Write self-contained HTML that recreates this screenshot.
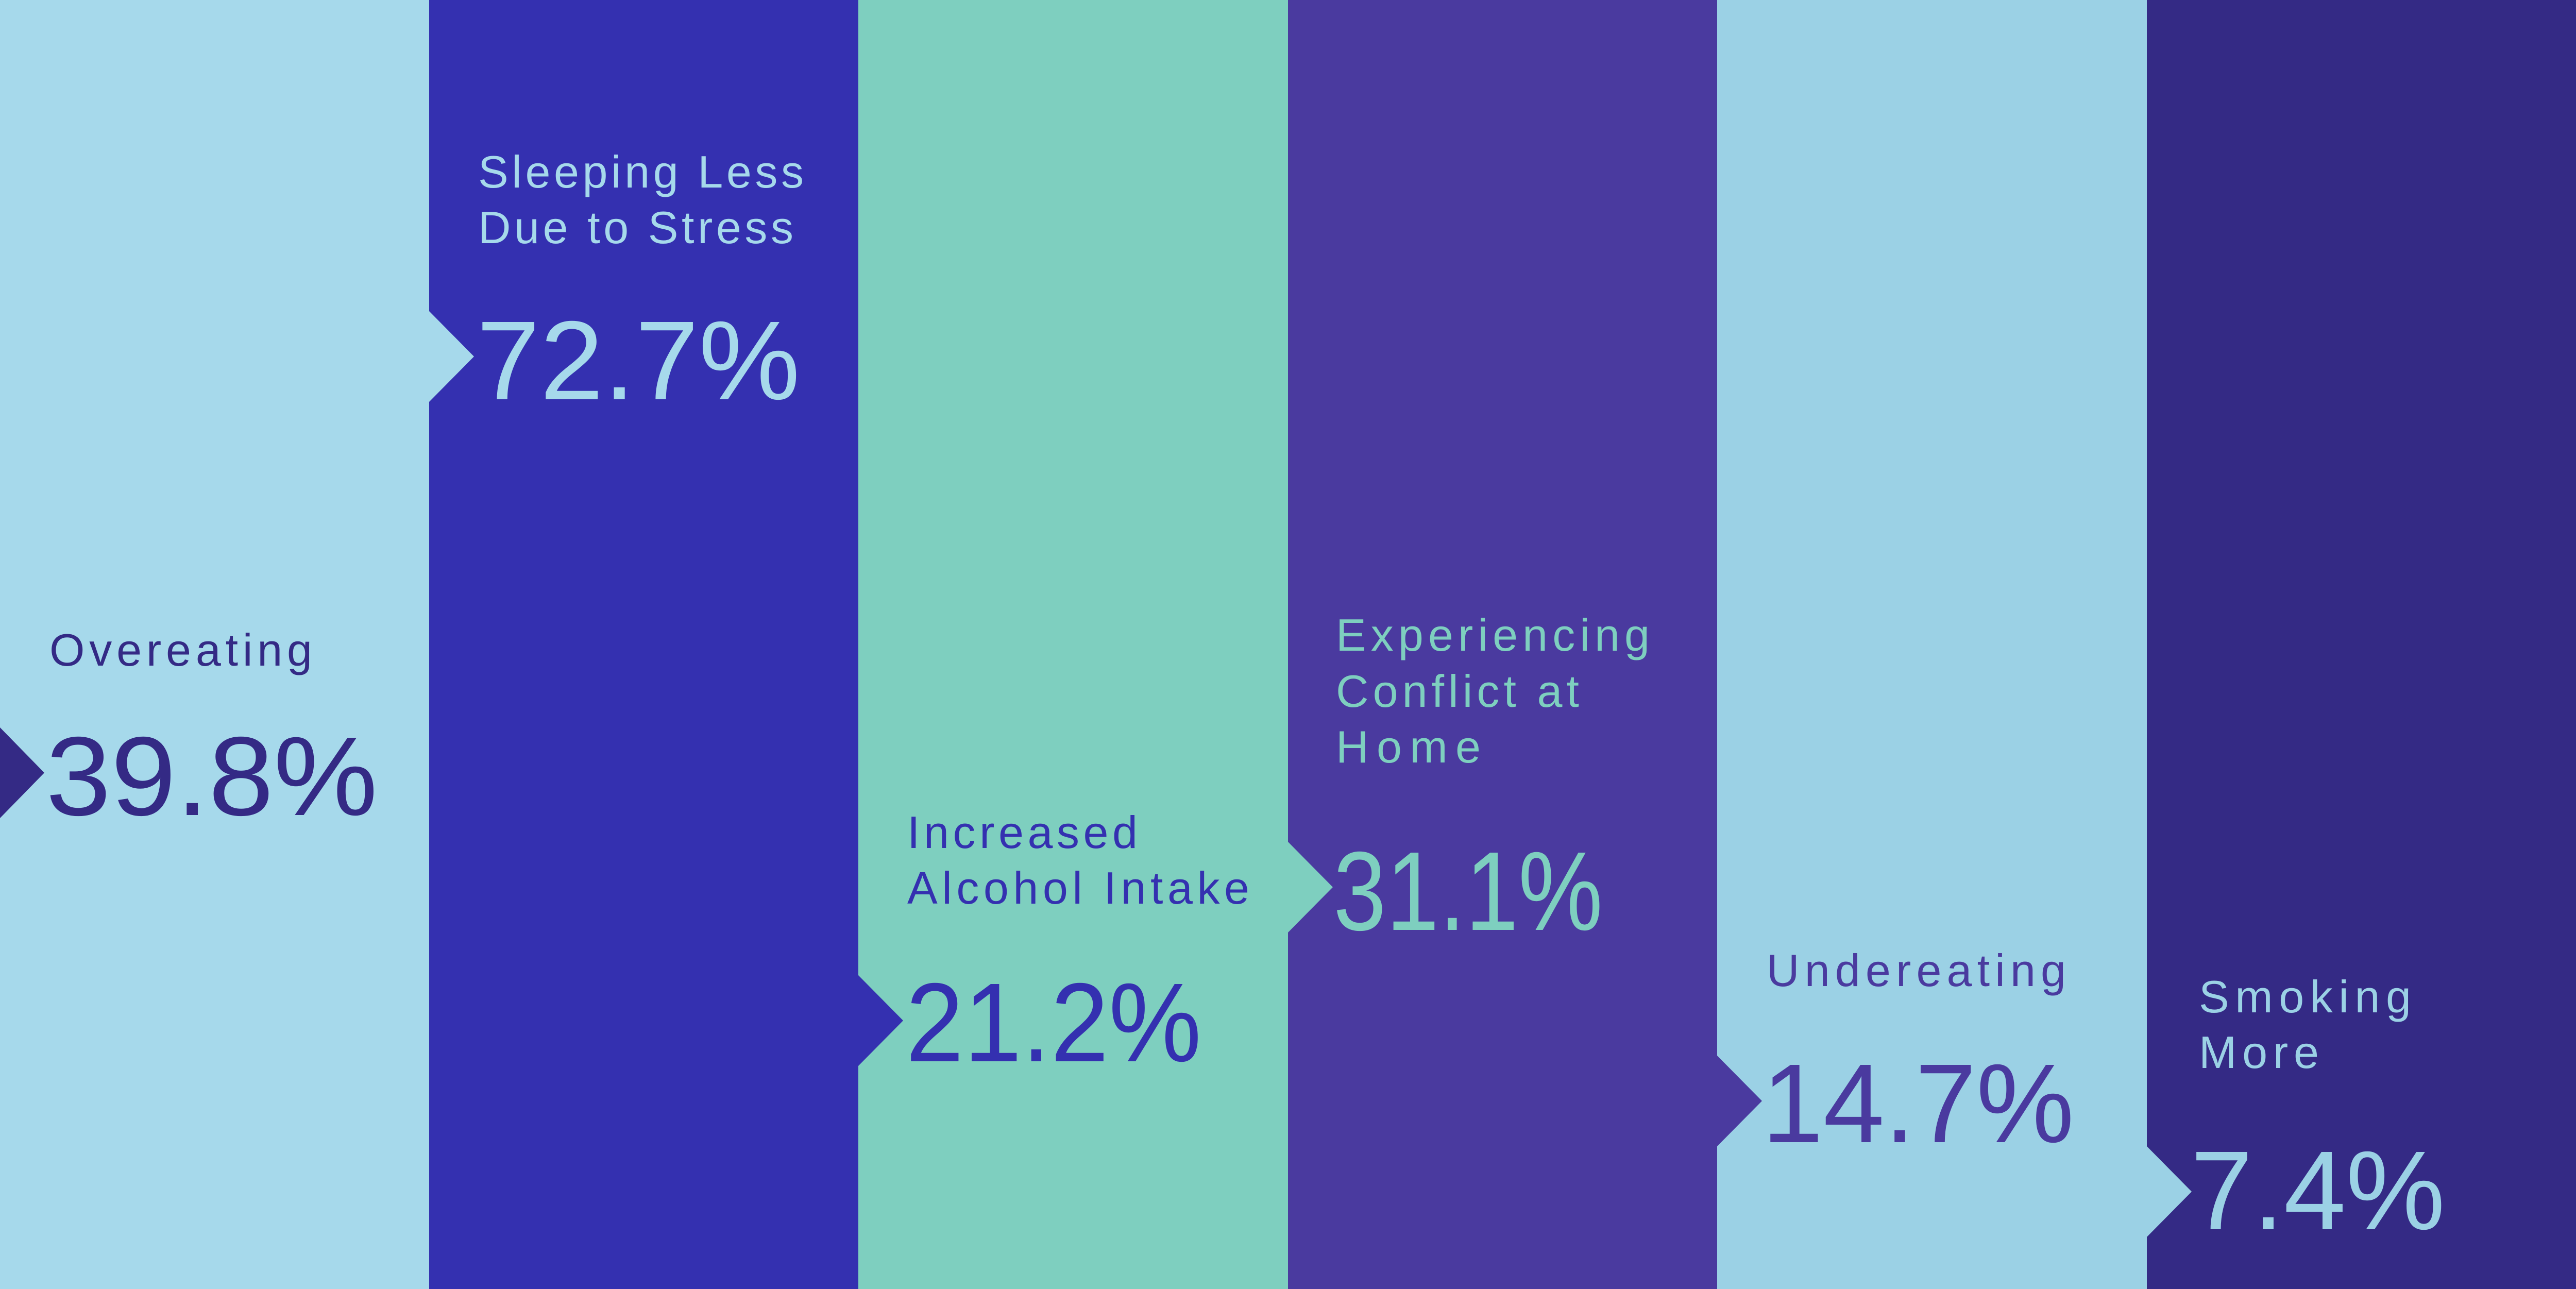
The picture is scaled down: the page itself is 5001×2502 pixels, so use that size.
<!DOCTYPE html>
<html><head><meta charset="utf-8"><style>html,body{margin:0;padding:0;overflow:hidden}svg{display:block}</style></head>
<body>
<svg width="5001" height="2502" viewBox="0 0 5001 2502" xmlns="http://www.w3.org/2000/svg" font-family="'Liberation Sans', sans-serif">
<rect x="0" y="0" width="834" height="2502" fill="#a6d9eb"/>
<rect x="833" y="0" width="834" height="2502" fill="#3430b0"/>
<rect x="1666" y="0" width="835" height="2502" fill="#7ecfbf"/>
<rect x="2500" y="0" width="834" height="2502" fill="#4a3a9f"/>
<rect x="3333" y="0" width="835" height="2502" fill="#9bd1e5"/>
<rect x="4167" y="0" width="834" height="2502" fill="#342a85"/>
<polygon points="0,1412 86,1500 0,1588" fill="#342a85"/>
<polygon points="833,604 920,692 833,780" fill="#a6d9eb"/>
<polygon points="1666,1893 1753,1981 1666,2069" fill="#3430b0"/>
<polygon points="2500,1634 2587,1722 2500,1810" fill="#7ecfbf"/>
<polygon points="3333,2049 3420,2137 3333,2225" fill="#4a3a9f"/>
<polygon points="4167,2225 4254,2313 4167,2401" fill="#9bd1e5"/>
<g font-size="88" lengthAdjust="spacing">
<text x="96" y="1292" fill="#342a85" textLength="510">Overeating</text>
<text x="928" y="364" fill="#a6d9eb" textLength="632">Sleeping Less</text>
<text x="928" y="472" fill="#a6d9eb" textLength="612">Due to Stress</text>
<text x="1761" y="1646" fill="#3430b0" textLength="447">Increased</text>
<text x="1761" y="1754" fill="#3430b0" textLength="664">Alcohol Intake</text>
<text x="2593" y="1263" fill="#7ecfbf" textLength="609">Experiencing</text>
<text x="2593" y="1372" fill="#7ecfbf" textLength="472">Conflict at</text>
<text x="2593" y="1480" fill="#7ecfbf" textLength="281">Home</text>
<text x="3429" y="1914" fill="#4a3a9f" textLength="581">Undereating</text>
<text x="4268" y="1965" fill="#9bd1e5" textLength="412">Smoking</text>
<text x="4268" y="2073" fill="#9bd1e5" textLength="233">More</text>
</g>
<g font-size="218">
<text x="89" y="1582" fill="#342a85" textLength="644" lengthAdjust="spacingAndGlyphs">39.8%</text>
<text x="925" y="775" fill="#a6d9eb" textLength="628" lengthAdjust="spacingAndGlyphs">72.7%</text>
<text x="1758" y="2060" fill="#3430b0" textLength="574" lengthAdjust="spacingAndGlyphs">21.2%</text>
<text x="2588" y="1805" fill="#7ecfbf" textLength="523" lengthAdjust="spacingAndGlyphs">31.1%</text>
<text x="3420" y="2217" fill="#4a3a9f" textLength="606" lengthAdjust="spacingAndGlyphs">14.7%</text>
<text x="4252" y="2386" fill="#9bd1e5" textLength="494" lengthAdjust="spacingAndGlyphs">7.4%</text>
</g>
</svg>
</body></html>
